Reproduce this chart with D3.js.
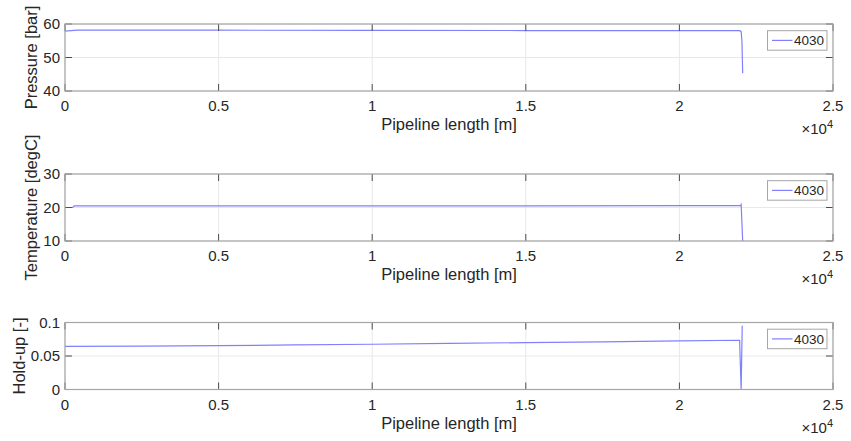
<!DOCTYPE html>
<html>
<head>
<meta charset="utf-8">
<script src="https://cdn.jsdelivr.net/npm/d3@7"></script>
<style>
  body { margin: 0; background: #fff; }
  svg { font-family: "Liberation Sans", Arial, sans-serif; }
</style>
</head>
<body>
<svg width="851" height="441"></svg>
<script>
const width = 851;
const height = 441;

// x values are pipeline length in metres
const xTicks = [0, 5000, 10000, 15000, 20000, 25000];
const xTickLabels = ['0', '0.5', '1', '1.5', '2', '2.5'];
const seriesName = '4030';

const pressureX = [0, 400, 5000, 10000, 15000, 20000, 21960, 22010, 22035, 22060];
const pressureY = [57.9, 58.15, 58.15, 58.1, 58.05, 58.0, 58.0, 57.7, 55.0, 45.3];

const tempX = [0, 250, 300, 5000, 10000, 15000, 20000, 21990, 22010, 22060];
const tempY = [20.0, 20.0, 20.5, 20.5, 20.5, 20.5, 20.55, 20.6, 20.9, 10.0];

const holdX = [0, 2500, 5000, 7500, 10000, 12500, 15000, 17500, 20000, 21960, 22010, 22045];
const holdY = [0.0644, 0.0648, 0.0655, 0.0665, 0.0675, 0.0688, 0.0700, 0.0712, 0.0725, 0.0735, 0.0, 0.095];

const panels = [
  { top: 24,    label: 'Pressure [bar]',     domain: [40, 60],  ticks: [40, 50, 60],   tickLabels: ['40', '50', '60'],     xs: pressureX, ys: pressureY },
  { top: 174,   label: 'Temperature [degC]', domain: [10, 30],  ticks: [10, 20, 30],   tickLabels: ['10', '20', '30'],     xs: tempX,     ys: tempY },
  { top: 322.5, label: 'Hold-up [-]',        domain: [0, 0.1],  ticks: [0, 0.05, 0.1], tickLabels: ['0', '0.05', '0.1'],   xs: holdX,     ys: holdY }
];

const left = 65, right = 833, panelH = 67;
const textColor = '#262626';
const lineColor = '#8080ff';

const svg = d3.select('svg');
const x = d3.scaleLinear().domain([0, 25000]).range([left, right]);

panels.forEach((p, i) => {
  const y = d3.scaleLinear().domain(p.domain).range([p.top + panelH, p.top]);
  const g = svg.append('g');

  g.append('rect')
    .attr('x', left).attr('y', p.top)
    .attr('width', right - left).attr('height', panelH)
    .attr('fill', '#fff');

  // grid
  g.selectAll('.gx').data(xTicks).enter().append('line')
    .attr('x1', d => x(d)).attr('x2', d => x(d))
    .attr('y1', p.top).attr('y2', p.top + panelH)
    .attr('stroke', '#e8e8e8');
  g.selectAll('.gy').data(p.ticks).enter().append('line')
    .attr('x1', left).attr('x2', right)
    .attr('y1', d => y(d)).attr('y2', d => y(d))
    .attr('stroke', '#e8e8e8');

  // data line
  const clipId = 'clip' + i;
  svg.append('clipPath').attr('id', clipId)
    .append('rect').attr('x', left).attr('y', p.top)
    .attr('width', right - left).attr('height', panelH);

  const line = d3.line().x(d => x(d[0])).y(d => y(d[1]));
  g.append('path')
    .datum(d3.zip(p.xs, p.ys))
    .attr('d', line)
    .attr('fill', 'none')
    .attr('stroke', lineColor)
    .attr('stroke-width', 1.2)
    .attr('clip-path', 'url(#' + clipId + ')');

  // tick marks (inward, all four sides)
  const tl = 7;
  xTicks.forEach(t => {
    g.append('line').attr('x1', x(t)).attr('x2', x(t))
      .attr('y1', p.top + panelH).attr('y2', p.top + panelH - tl)
      .attr('stroke', '#4d4d4d');
    g.append('line').attr('x1', x(t)).attr('x2', x(t))
      .attr('y1', p.top).attr('y2', p.top + tl)
      .attr('stroke', '#4d4d4d');
  });
  p.ticks.forEach(t => {
    g.append('line').attr('x1', left).attr('x2', left + tl)
      .attr('y1', y(t)).attr('y2', y(t)).attr('stroke', '#4d4d4d');
    g.append('line').attr('x1', right).attr('x2', right - tl)
      .attr('y1', y(t)).attr('y2', y(t)).attr('stroke', '#4d4d4d');
  });

  // box
  g.append('rect')
    .attr('x', left).attr('y', p.top)
    .attr('width', right - left).attr('height', panelH)
    .attr('fill', 'none')
    .attr('stroke', '#a6a6a6')
    .attr('stroke-width', 1.2);

  // x tick labels
  g.selectAll('.xt').data(xTicks).enter().append('text')
    .attr('x', d => x(d))
    .attr('y', p.top + panelH + 20)
    .attr('text-anchor', 'middle')
    .attr('font-size', 15)
    .attr('fill', textColor)
    .text((d, j) => xTickLabels[j]);

  // y tick labels
  const yt = g.selectAll('.yt').data(p.ticks).enter().append('text')
    .attr('x', left - 5)
    .attr('y', d => y(d) + 5.3)
    .attr('text-anchor', 'end')
    .attr('font-size', 15)
    .attr('fill', textColor)
    .text((d, j) => p.tickLabels[j]);

  let minX = left;
  yt.each(function() { minX = Math.min(minX, this.getBBox().x); });

  // y label
  const ly = p.top + panelH / 2;
  const lx = minX - 6;
  g.append('text')
    .attr('transform', 'translate(' + lx + ',' + ly + ') rotate(-90)')
    .attr('text-anchor', 'middle')
    .attr('font-size', 16.5)
    .attr('fill', textColor)
    .text(p.label);

  // x label
  g.append('text')
    .attr('x', (left + right) / 2)
    .attr('y', p.top + panelH + 39)
    .attr('text-anchor', 'middle')
    .attr('font-size', 16.5)
    .attr('fill', textColor)
    .text('Pipeline length [m]');

  // exponent
  const ex = g.append('text')
    .attr('x', right)
    .attr('y', p.top + panelH + 43)
    .attr('text-anchor', 'end')
    .attr('font-size', 15)
    .attr('fill', textColor);
  ex.append('tspan').text('\u00d710');
  ex.append('tspan').attr('font-size', 11).attr('dy', -6).text('4');

  // legend
  const lgTop = p.top + 6.7;
  g.append('rect')
    .attr('x', 767.5).attr('y', lgTop)
    .attr('width', 59.5).attr('height', 19.5)
    .attr('fill', '#fff')
    .attr('stroke', '#a6a6a6');
  g.append('line')
    .attr('x1', 772).attr('x2', 792.5)
    .attr('y1', lgTop + 9.7).attr('y2', lgTop + 9.7)
    .attr('stroke', lineColor).attr('stroke-width', 1.2);
  g.append('text')
    .attr('x', 794)
    .attr('y', lgTop + 14.5)
    .attr('font-size', 13.5)
    .attr('fill', textColor)
    .text(seriesName);
});
</script>
</body>
</html>
